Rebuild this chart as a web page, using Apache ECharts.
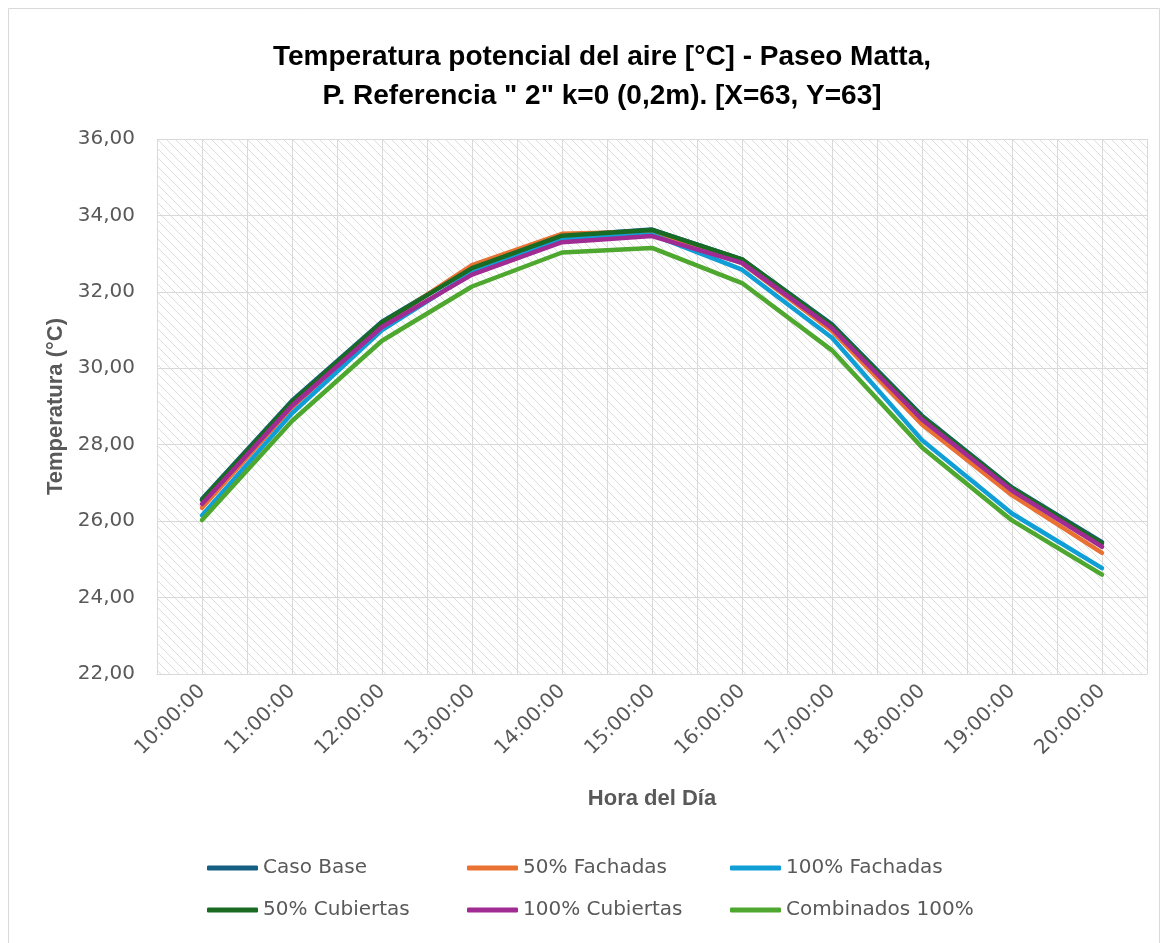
<!DOCTYPE html>
<html>
<head>
<meta charset="utf-8">
<script src="https://cdn.jsdelivr.net/npm/echarts@6/dist/echarts.min.js"></script>
<style>
  html, body { margin: 0; padding: 0; background: #ffffff; }
  #chart { width: 1167px; height: 943px; }
</style>
</head>
<body>
<div id="chart"></div>
<script>
// Hours of the day (category axis)
const hours = ['10:00:00', '11:00:00', '12:00:00', '13:00:00', '14:00:00', '15:00:00',
               '16:00:00', '17:00:00', '18:00:00', '19:00:00', '20:00:00'];

// Potential air temperature (°C) per scenario
const casoBase       = [26.58, 29.15, 31.22, 32.62, 33.47, 33.63, 32.85, 31.15, 28.76, 26.88, 25.45];
const fachadas50     = [26.35, 28.98, 31.15, 32.70, 33.52, 33.58, 32.75, 30.98, 28.53, 26.68, 25.17];
const fachadas100    = [26.15, 28.82, 31.00, 32.50, 33.38, 33.50, 32.58, 30.80, 28.12, 26.20, 24.77];
const cubiertas50    = [26.55, 29.12, 31.20, 32.62, 33.47, 33.62, 32.85, 31.12, 28.73, 26.86, 25.42];
const cubiertas100   = [26.45, 29.02, 31.08, 32.45, 33.30, 33.46, 32.76, 31.05, 28.66, 26.80, 25.33];
const combinados100  = [26.03, 28.62, 30.72, 32.14, 33.03, 33.15, 32.23, 30.47, 27.93, 26.02, 24.60];

const seriesNames = ['Caso Base', '50% Fachadas', '100% Fachadas', '50% Cubiertas', '100% Cubiertas', 'Combinados 100%'];
const seriesData  = [casoBase, fachadas50, fachadas100, cubiertas50, cubiertas100, combinados100];
const colors = ['#156082', '#E97132', '#0F9ED5', '#196B24', '#A02B93', '#4EA72E'];

// Diagonal hatch fill for the plot area
function hatchPattern() {
  const n = 9;
  const c = document.createElement('canvas');
  c.width = n; c.height = n;
  const ctx = c.getContext('2d');
  ctx.fillStyle = '#ffffff';
  ctx.fillRect(0, 0, n, n);
  ctx.fillStyle = '#dedede';
  for (let i = 0; i < n; i++) ctx.fillRect(i, i, 1, 1);
  return c;
}

const tickFont = { fontFamily: 'DejaVu Sans', fontSize: 20, color: '#595959' };
const nameFont = { fontFamily: 'Liberation Sans', fontSize: 22, fontWeight: 'bold', color: '#595959' };

const chart = echarts.init(document.getElementById('chart'), null, { renderer: 'canvas' });

const legendBase = {
  orient: 'vertical',
  top: 853,
  itemGap: 22,
  itemWidth: 51,
  itemHeight: 5,
  icon: 'roundRect',
  textStyle: { fontFamily: 'DejaVu Sans', fontSize: 20, color: '#595959', padding: [0, 0, 0, 0] }
};

chart.setOption({
  animation: false,
  backgroundColor: '#ffffff',
  title: {
    text: 'Temperatura potencial del aire [°C] - Paseo Matta,\nP. Referencia " 2" k=0 (0,2m). [X=63, Y=63]',
    left: 597,
    top: 33,
    textAlign: 'center',
    textStyle: { fontFamily: 'Liberation Sans', fontSize: 28, fontWeight: 'bold', color: '#000000', lineHeight: 39 }
  },
  grid: {
    left: 157, right: 20, top: 139, bottom: 269,
    show: true,
    borderWidth: 0,
    backgroundColor: { image: hatchPattern(), repeat: 'repeat' }
  },
  legend: [
    Object.assign({ left: 202, data: ['Caso Base', '50% Cubiertas'] }, legendBase),
    Object.assign({ left: 462, data: ['50% Fachadas', '100% Cubiertas'] }, legendBase),
    Object.assign({ left: 725, data: ['100% Fachadas', 'Combinados 100%'] }, legendBase)
  ],
  xAxis: [
    {
      type: 'category',
      data: hours,
      boundaryGap: true,
      name: 'Hora del Día',
      nameLocation: 'middle',
      nameGap: 114,
      nameTextStyle: nameFont,
      axisLine: { show: true, lineStyle: { color: '#d9d9d9', width: 1 } },
      axisTick: { show: false },
      splitLine: { show: false },
      axisLabel: Object.assign({ rotate: 45, margin: 14, interval: 0 }, tickFont)
    },
    {
      // half-category gridlines
      type: 'value',
      min: 0, max: 22, interval: 1,
      show: true,
      position: 'top',
      axisLine: { show: false },
      axisTick: { show: false },
      axisLabel: { show: false },
      splitLine: { show: true, lineStyle: { color: '#d9d9d9', width: 1 } }
    }
  ],
  yAxis: {
    type: 'value',
    min: 22, max: 36, interval: 2,
    name: 'Temperatura (°C)',
    nameLocation: 'middle',
    nameGap: 90,
    nameTextStyle: nameFont,
    axisLine: { show: false },
    axisTick: { show: false },
    axisLabel: Object.assign({
      margin: 22,
      formatter: v => v.toFixed(2).replace('.', ',')
    }, tickFont),
    splitLine: { show: true, lineStyle: { color: '#d9d9d9', width: 1 } }
  },
  series: seriesNames.map((name, i) => ({
    name: name,
    type: 'line',
    xAxisIndex: 0,
    data: seriesData[i],
    symbol: 'none',
    smooth: false,
    color: colors[i],
    lineStyle: { width: 4.5, color: colors[i], join: 'round', cap: 'round' }
  })),
  graphic: [{
    type: 'rect',
    shape: { x: 8.5, y: 8.5, width: 1151, height: 945 },
    style: { fill: 'none', stroke: '#d9d9d9', lineWidth: 1 },
    silent: true,
    z: 100
  }]
});
</script>
</body>
</html>
